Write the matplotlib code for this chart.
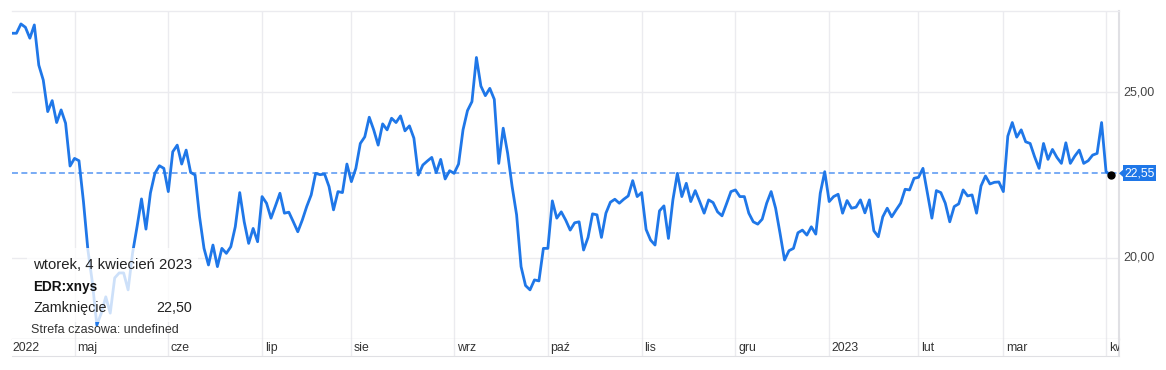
import numpy as np
import matplotlib
matplotlib.use('Agg')
import matplotlib.pyplot as plt
from matplotlib.patches import Rectangle, Polygon

plt.rcParams['font.family'] = ['Liberation Sans', 'DejaVu Sans']

# ---------------- data ----------------
start_date = '2022-04-11'
end_date = '2023-04-05'
holidays = ['2022-04-15', '2022-05-30', '2022-06-20', '2022-07-04', '2022-09-05',
            '2022-11-24', '2022-12-26', '2023-01-02', '2023-01-16', '2023-02-20']

close = [
    26.77, 26.77, 27.05, 26.95, 26.62, 27.02, 25.81, 25.36, 24.41, 24.74,
    24.08, 24.46, 24.06, 22.77, 23.00, 22.93, 21.70, 20.24, 19.26, 17.98,
    18.34, 18.83, 18.34, 19.40, 19.55, 19.55, 19.04, 20.15, 20.94, 21.78,
    20.87, 21.96, 22.55, 22.78, 22.70, 22.00, 23.20, 23.40, 22.83, 23.25,
    22.58, 22.50, 21.24, 20.29, 19.79, 20.39, 19.74, 20.29, 20.14, 20.34,
    20.94, 21.97, 21.09, 20.44, 20.89, 20.49, 21.85, 21.65, 21.20, 21.57,
    21.95, 21.35, 21.38, 21.09, 20.79, 21.14, 21.55, 21.90, 22.55, 22.51,
    22.53, 22.15, 21.45, 22.00, 21.97, 22.83, 22.30, 22.70, 23.45, 23.65,
    24.24, 23.86, 23.40, 24.04, 23.86, 24.21, 24.08, 24.28, 23.83, 23.98,
    23.61, 22.50, 22.80, 22.92, 23.03, 22.57, 22.97, 22.38, 22.63, 22.55,
    22.83, 23.86, 24.44, 24.71, 26.04, 25.18, 24.89, 25.11, 24.78, 22.85,
    23.91, 23.15, 22.15, 21.30, 19.74, 19.17, 19.04, 19.34, 19.31, 20.29,
    20.29, 21.72, 21.20, 21.39, 21.14, 20.84, 21.06, 21.09, 20.24, 20.62,
    21.33, 21.30, 20.62, 21.35, 21.68, 21.77, 21.65, 21.77, 21.87, 22.33,
    21.85, 21.97, 20.86, 20.54, 20.39, 21.42, 21.57, 20.59, 21.75, 22.55,
    21.85, 22.25, 21.70, 22.03, 21.70, 21.35, 21.75, 21.67, 21.39, 21.27,
    21.63, 22.00, 22.05, 21.85, 21.85, 21.35, 21.09, 21.02, 21.17, 21.65,
    22.00, 21.50, 20.74, 19.94, 20.22, 20.29, 20.76, 20.84, 20.69, 20.94,
    20.72, 21.95, 22.60, 21.70, 21.85, 21.92, 21.35, 21.73, 21.50, 21.53,
    21.75, 21.36, 21.75, 20.82, 20.64, 21.24, 21.50, 21.24, 21.45, 21.65,
    22.07, 22.05, 22.40, 22.43, 22.70, 21.95, 21.20, 22.03, 21.97, 21.65,
    21.09, 21.55, 21.63, 22.05, 21.87, 21.90, 21.35, 22.17, 22.47, 22.23,
    22.28, 22.29, 22.00, 23.67, 24.08, 23.64, 23.86, 23.50, 23.45, 23.05,
    22.70, 23.45, 22.97, 23.27, 23.03, 22.85, 23.47, 22.85, 23.07, 23.25,
    22.85, 22.93, 23.10, 23.15, 24.08, 22.60, 22.50,
]
last_price = 22.55
last_price_label = '22,55'

y_ticks = [20.0, 25.0]
y_tick_labels = ['20,00', '25,00']

first_label = '2022'
month_starts = ['2022-05-01', '2022-06-01', '2022-07-01', '2022-08-01', '2022-09-01',
                '2022-10-01', '2022-11-01', '2022-12-01', '2023-01-01', '2023-02-01',
                '2023-03-01', '2023-04-01']
month_labels = ['maj', 'cze', 'lip', 'sie', 'wrz', 'paź', 'lis', 'gru', '2023', 'lut',
                'mar', 'kw']

tooltip_date = 'wtorek, 4 kwiecień 2023'
tooltip_symbol = 'EDR:xnys'
tooltip_field = 'Zamknięcie'
tooltip_value = '22,50'
timezone_note = 'Strefa czasowa: undefined'

# ---------------- trading-day axis ----------------
days = np.arange(np.datetime64(start_date), np.datetime64(end_date))
days = days[np.is_busday(days, holidays=np.array(holidays, dtype='datetime64[D]'))]
n = min(len(days), len(close))
x = np.arange(len(close))
month_idx = [int(np.searchsorted(days[:n], np.datetime64(m))) for m in month_starts]

# ---------------- figure ----------------
W, H = 1166, 370
fig = plt.figure(figsize=(W / 100, H / 100), dpi=100)
fig.patch.set_facecolor('white')


def fx(px):
    return px / W


def fy(py):
    return 1 - py / H


L, R, T, B, B2 = 12, 1119, 11, 339, 356
ax = fig.add_axes([fx(L), fy(B), (R - L) / W, (B - T) / H])
ax.set_xlim(0.0, 247.9)
ax.set_ylim(17.56, 27.44)
ax.set_xticks([])
ax.set_yticks([])
grid_c = '#ebebef'
border_c = '#e0e0e4'
ax.spines['left'].set_visible(False)
ax.spines['top'].set_color(grid_c)
ax.spines['bottom'].set_color(border_c)
ax.spines['right'].set_color(border_c)
ax.spines['right'].set_linewidth(1.5)
for s in ['top', 'bottom']:
    ax.spines[s].set_linewidth(1.0)

for yv in y_ticks:
    ax.axhline(yv, color=grid_c, lw=1.0, zorder=0)
for mi in month_idx:
    ax.axvline(mi, color=grid_c, lw=1.0, zorder=0)

ax.plot(x, close, color='#1f77e8', lw=2.0, zorder=3, solid_joinstyle='round')
ax.axhline(last_price, xmin=0, xmax=1.004, color='#6da5f4', lw=1.3,
           dashes=(3.3, 1.9), zorder=2, clip_on=False)
ax.plot([x[-1]], [close[-1]], 'o', color='black', ms=5, zorder=5)

# label strip
ax2 = fig.add_axes([fx(L), fy(B2), (R - L) / W, (B2 - B) / H])
ax2.set_xlim(ax.get_xlim())
ax2.set_ylim(0, 1)
ax2.set_xticks([])
ax2.set_yticks([])
ax2.spines['left'].set_visible(False)
ax2.spines['top'].set_visible(False)
ax2.spines['bottom'].set_color(border_c)
ax2.spines['right'].set_color(border_c)
ax2.spines['right'].set_linewidth(1.5)
for mi, lab in zip(month_idx, month_labels):
    ax2.axvline(mi, color=grid_c, lw=1.0, zorder=0)
    ax2.text(mi + 0.6, 0.45, lab, fontsize=8.8, color='#333333', ha='left', va='center',
             clip_on=True)
ax2.text(0.2, 0.45, first_label, fontsize=8.8, color='#333333', ha='left', va='center')

# y labels on the right
yl, yh = ax.get_ylim()
for yv, lab in zip(y_ticks, y_tick_labels):
    py = T + (yh - yv) / (yh - yl) * (B - T)
    fig.text(fx(1123), fy(py), lab, fontsize=9.0, color='#444444', ha='left', va='center')

# last price marker
py_last = T + (yh - last_price) / (yh - yl) * (B - T)
fig.patches.append(Rectangle((fx(1123), fy(py_last + 8)), 33 / W, 16 / H,
                             transform=fig.transFigure, facecolor='#1f77e8',
                             edgecolor='none', zorder=4))
fig.patches.append(Polygon([(fx(1119), fy(py_last)), (fx(1123.5), fy(py_last - 4)),
                            (fx(1123.5), fy(py_last + 4))],
                           transform=fig.transFigure, facecolor='#1f77e8',
                           edgecolor='none', zorder=4))
fig.text(fx(1124.5), fy(py_last), last_price_label, fontsize=8.8, color='white',
         ha='left', va='center', zorder=5)

# tooltip
fig.patches.append(Rectangle((fx(27), fy(322)), (198 - 27) / W, (322 - 248) / H,
                             transform=fig.transFigure, facecolor='white', alpha=0.78,
                             edgecolor='none', zorder=6))
fig.text(fx(33), fy(265), tooltip_date, fontsize=10.7, color='#222222', ha='left',
         va='center', zorder=7)
fig.text(fx(33), fy(287), tooltip_symbol, fontsize=9.8, color='#111111',
         fontweight='bold', ha='left', va='center', zorder=7)
fig.text(fx(33), fy(308), tooltip_field, fontsize=10.3, color='#222222', ha='left',
         va='center', zorder=7)
fig.text(fx(192), fy(308), tooltip_value, fontsize=10.3, color='#222222', ha='right',
         va='center', zorder=7)
fig.text(fx(31), fy(330), timezone_note, fontsize=9.0, color='#333333', ha='left',
         va='center', zorder=7)

fig.savefig('out.png', dpi=100)
